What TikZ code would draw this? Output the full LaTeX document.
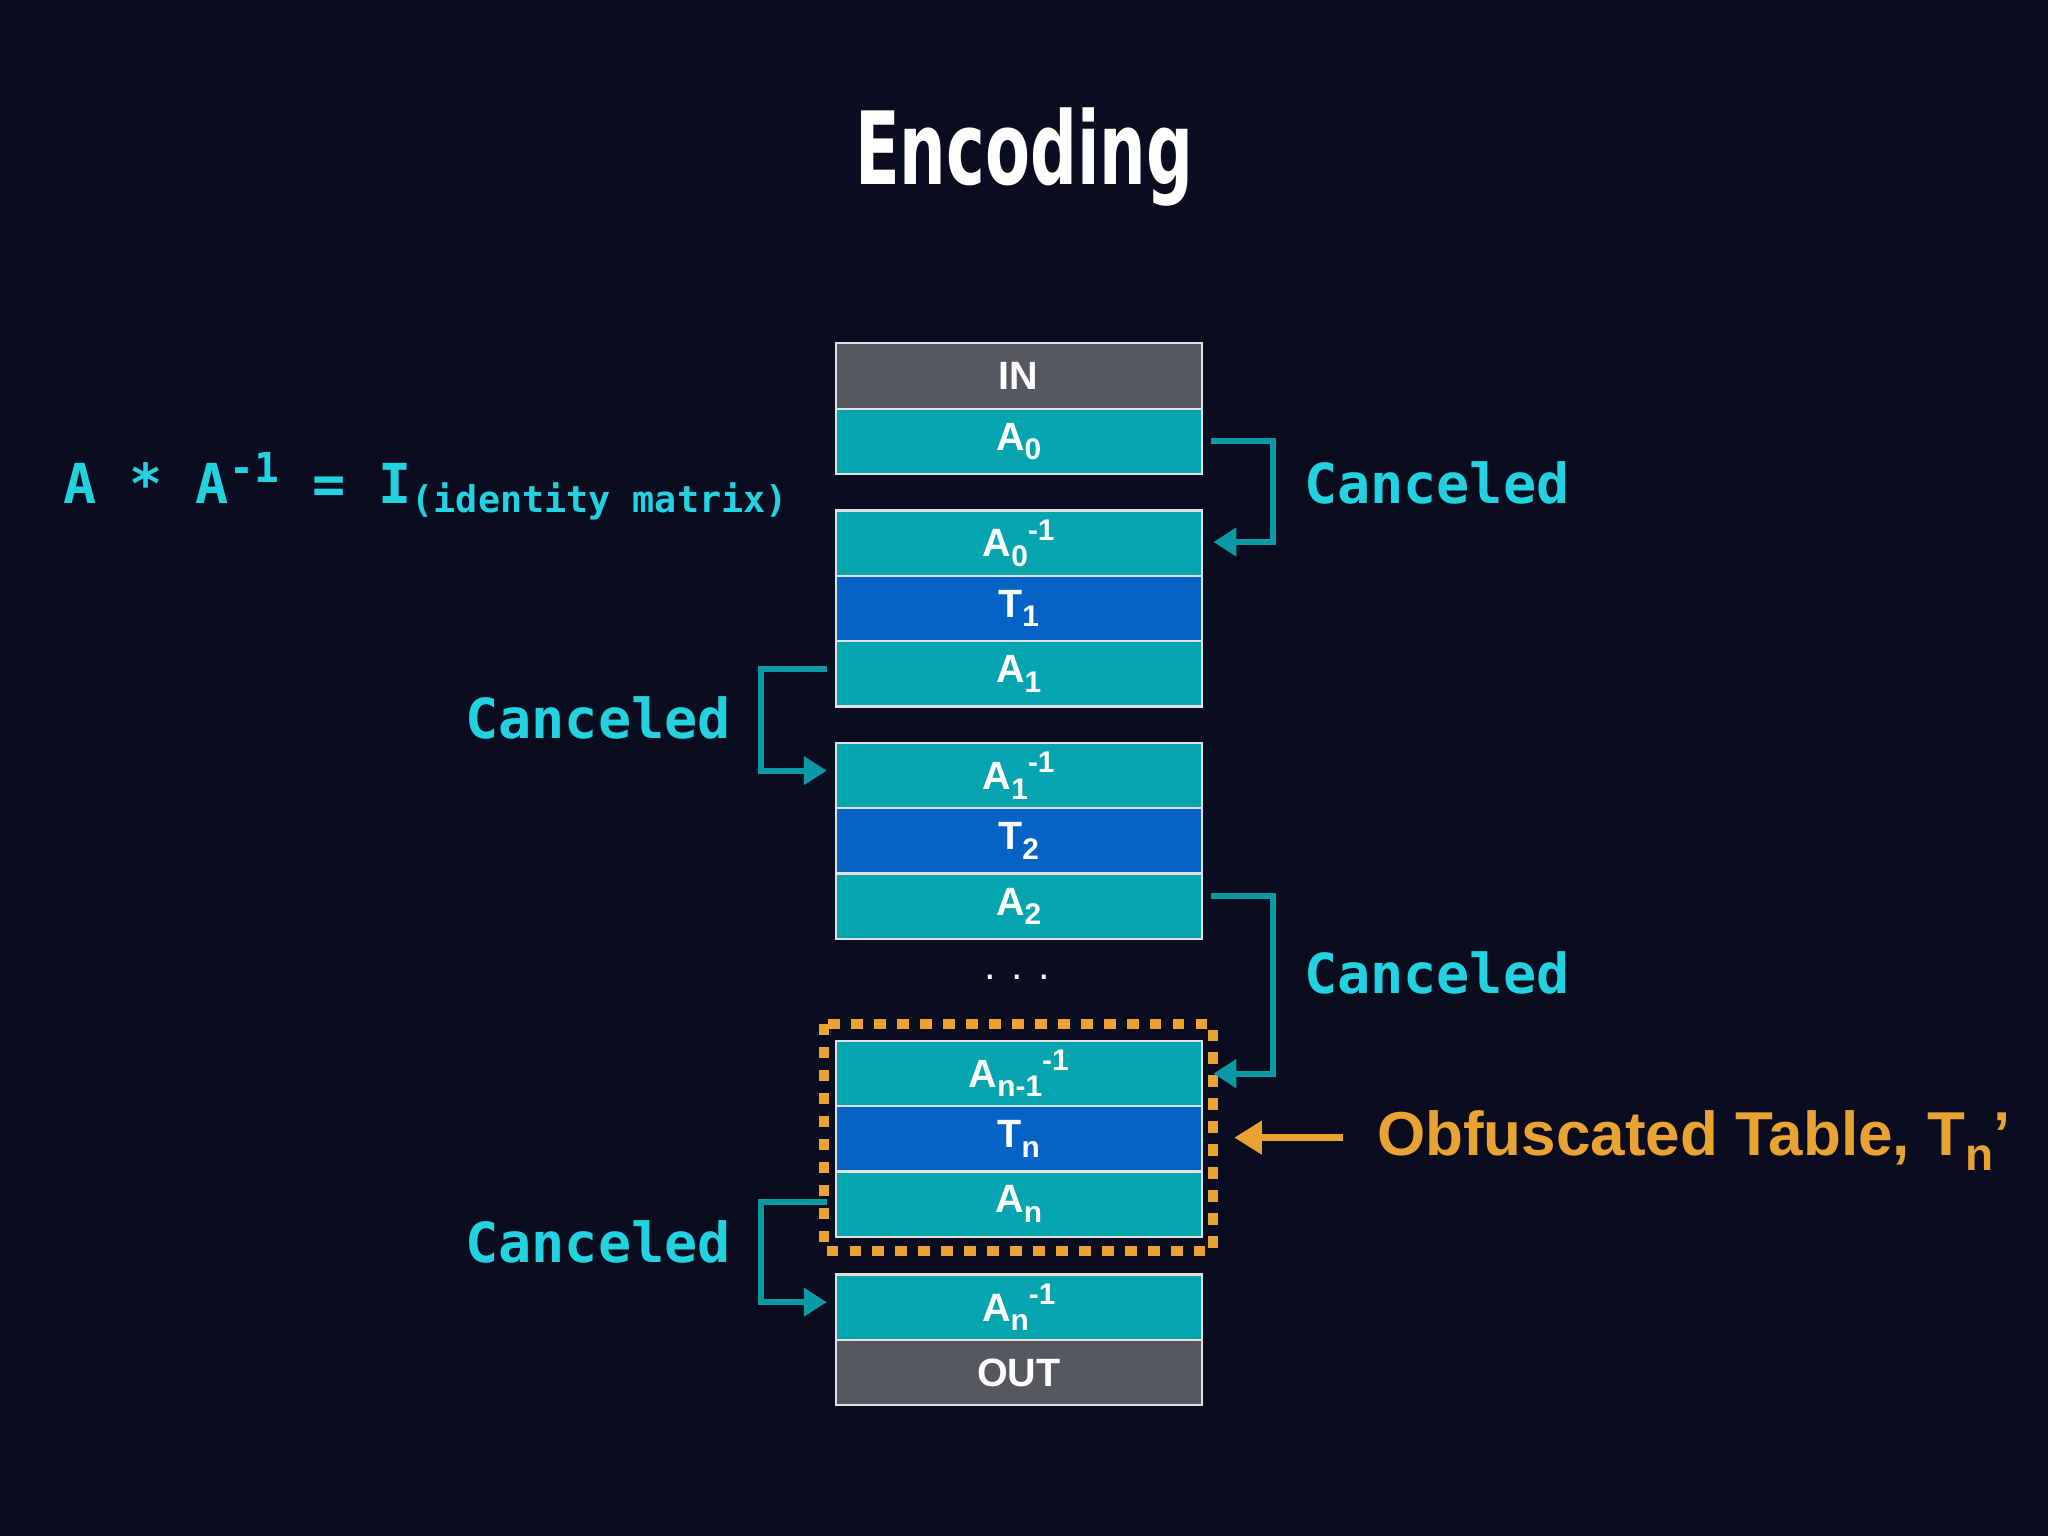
\documentclass[tikz,border=0pt]{standalone}
\usepackage{fontspec}
\setmainfont{Liberation Sans}
\newfontfamily\monof{DejaVu Sans Mono}
\newfontfamily\titlef{DejaVu Sans Condensed}
\definecolor{bg}{HTML}{0A0C20}
\definecolor{teal}{HTML}{05A5AF}
\definecolor{blu}{HTML}{0563C6}
\definecolor{gry}{HTML}{56585F}
\definecolor{cyn}{HTML}{22D2E0}
\definecolor{brk}{HTML}{0A9AA6}
\definecolor{org}{HTML}{E9A332}
\usetikzlibrary{arrows.meta}
\newcommand{\mysb}[1]{\raisebox{-0.45ex}{\fontsize{6.5}{7}\selectfont #1}}
\newcommand{\mysbp}[2]{\mysb{#1}\raisebox{0.8ex}{\fontsize{6.5}{7}\selectfont #2}}
\begin{document}
\begin{tikzpicture}[x=0.01cm,y=-0.01cm,
  cell/.style={draw=white!88!black,line width=0.5pt,minimum width=2.8cm,minimum height=0.5cm,inner sep=0pt,text=white,font=\fontsize{8.6}{9}\selectfont\bfseries,anchor=north west},
  can/.style={text=cyn,font=\monof\fontsize{12}{13}\selectfont\bfseries},
  brkt/.style={draw=brk,line width=1.3pt,-{Triangle[length=5pt,width=6pt]}}]
\fill[bg] (0,0) rectangle (1568,1176);
\useasboundingbox (0,0) rectangle (1568,1176);
\node[text=white,font=\titlef\fontsize{22}{26}\selectfont\bfseries] (title) at (784,120) {\scalebox{0.72}[1]{Encoding}};
\node[cell,fill=gry] (in) at (639,262) {IN};
\node[cell,fill=teal] (a0) at (639,312) {A\mysb{0}};
\node[cell,fill=teal] (a0i) at (639,390) {A\mysbp{0}{-1}};
\node[cell,fill=blu] (t1) at (639,440) {T\mysb{1}};
\node[cell,fill=teal] (a1) at (639,490) {A\mysb{1}};
\node[cell,fill=teal] (a1i) at (639,568) {A\mysbp{1}{-1}};
\node[cell,fill=blu] (t2) at (639,618) {T\mysb{2}};
\node[cell,fill=teal] (a2) at (639,668) {A\mysb{2}};
\node[text=white,font=\small] (dots) at (779,748) {. . .};
\node[cell,fill=teal] (ani) at (639,796) {A\mysbp{n-1}{-1}};
\node[cell,fill=blu] (tn) at (639,846) {T\mysb{n}};
\node[cell,fill=teal] (an) at (639,896) {A\mysb{n}};
\node[cell,fill=teal] (anii) at (639,975) {A\mysbp{n}{-1}};
\node[cell,fill=gry] (out) at (639,1025) {OUT};
\draw[org,line width=2.2pt,dash pattern=on 2.5pt off 2.5pt] (631,784) rectangle (929,958);
\draw[org,line width=1.6pt,-{Triangle[length=6pt,width=7pt]}] (1028,871) -- (945,871);
\node[anchor=west,text=org,font=\fontsize{13.5}{15}\selectfont\bfseries] (obt) at (1042,873) {Obfuscated Table, T\raisebox{-0.45ex}{\fontsize{10}{11}\selectfont n}'};
\node[anchor=west,text=cyn,font=\monof\fontsize{12}{13}\selectfont\bfseries] (eq) at (36,372) {A * A\raisebox{0.7ex}{\fontsize{9}{10}\selectfont -1} = I\raisebox{-0.3ex}{\fontsize{8}{9}\selectfont(identity matrix)}};
\draw[brkt] (927,338) -- (975,338) -- (975,415) -- (929,415);
\node[can,anchor=west] (c1) at (986,370) {Canceled};
\draw[brkt] (633,512) -- (583,512) -- (583,590) -- (633,590);
\node[can,anchor=east] (c2) at (572,550) {Canceled};
\draw[brkt] (927,686) -- (975,686) -- (975,822) -- (929,822);
\node[can,anchor=west] (c3) at (986,745) {Canceled};
\draw[brkt] (633,920) -- (583,920) -- (583,997) -- (633,997);
\node[can,anchor=east] (c4) at (572,951) {Canceled};
\end{tikzpicture}
\end{document}
